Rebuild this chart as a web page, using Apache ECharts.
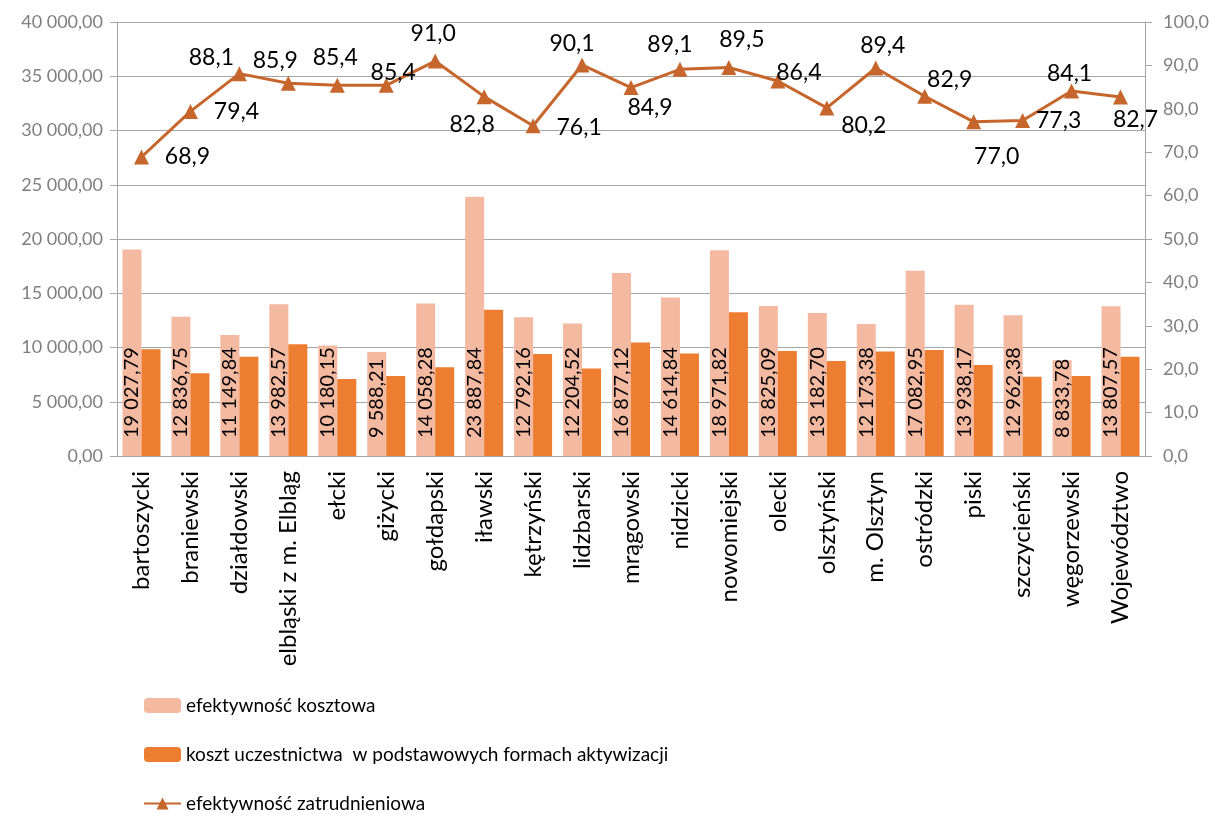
<!DOCTYPE html>
<html>
<head>
<meta charset="utf-8">
<script src="https://cdn.jsdelivr.net/npm/echarts@6/dist/echarts.min.js"></script>
<style>
  html, body { margin: 0; padding: 0; background: #fff; }
  #chart { width: 1215px; height: 817px; }
</style>
</head>
<body>
<div id="chart"></div>
<script>
// powiaty
var categories = ['bartoszycki', 'braniewski', 'działdowski', 'elbląski z m. Elbląg', 'ełcki', 'giżycki',
  'gołdapski', 'iławski', 'kętrzyński', 'lidzbarski', 'mrągowski', 'nidzicki', 'nowomiejski', 'olecki',
  'olsztyński', 'm. Olsztyn', 'ostródzki', 'piski', 'szczycieński', 'węgorzewski', 'Województwo'];

var efektywnoscKosztowa = [19027.79, 12836.75, 11149.84, 13982.57, 10180.15, 9588.21, 14058.28, 23887.84,
  12792.16, 12204.52, 16877.12, 14614.84, 18971.82, 13825.09, 13182.70, 12173.38, 17082.95, 13938.17,
  12962.38, 8833.78, 13807.57];

// (brak etykiet)
var kosztUczestnictwa = [9830, 7620, 9140, 10310, 7090, 7370, 8170, 13470, 9390, 8070, 10470, 9450,
  13260, 9670, 8750, 9640, 9760, 8380, 7300, 7370, 9140];

var efektywnoscZatrudnieniowa = [68.9, 79.4, 88.1, 85.9, 85.4, 85.4, 91.0, 82.8, 76.1, 90.1, 84.9, 89.1,
  89.5, 86.4, 80.2, 89.4, 82.9, 77.0, 77.3, 84.1, 82.7];

var seriesNames = ['efektywność kosztowa', 'koszt uczestnictwa  w podstawowych formach aktywizacji',
  'efektywność zatrudnieniowa'];

// przesuniecia etykiet linii wzgledem punktu
var lineLabelOffsets = [[46, 0], [46, 0], [-28, -16], [-13, -23], [-2, -28], [7, -13], [-2, -27], [-12, 28],
  [46, 2], [-10, -21], [19, 20], [-10, -25], [13, -28], [21, -8], [37, 18], [7, -22], [25, -17], [23, 35],
  [36, 0], [-2, -17], [15, 22]];

function fmt(v, d) {
  var parts = Number(v).toFixed(d).split('.');
  parts[0] = parts[0].replace(/\B(?=(\d{3})+(?!\d))/g, ' ');
  return parts.join(',');
}

var FONT = 'Lato';
var gray = '#a6a6a6';

var chart = echarts.init(document.getElementById('chart'));
chart.setOption({
  animation: false,
  textStyle: { fontFamily: FONT },
  grid: { left: 117, right: 70, top: 22, bottom: 361 },
  legend: {
    orient: 'vertical',
    left: 138,
    top: 691,
    height: 200,
    itemWidth: 37,
    itemHeight: 15,
    itemGap: 30,
    textStyle: { fontFamily: FONT, fontSize: 19, color: '#000' },
    data: seriesNames
  },
  xAxis: {
    type: 'category',
    data: categories,
    axisLine: { lineStyle: { color: gray } },
    axisTick: { length: 8, interval: 0, lineStyle: { color: gray } },
    axisLabel: { interval: 0, rotate: 90, margin: 15, fontSize: 24, color: '#000', fontFamily: FONT }
  },
  yAxis: [{
    type: 'value',
    min: 0, max: 40000, interval: 5000,
    axisLine: { show: true, lineStyle: { color: gray } },
    axisTick: { show: true, length: 7, lineStyle: { color: gray } },
    splitLine: { lineStyle: { color: gray } },
    axisLabel: { fontSize: 18, color: '#7f7f7f', margin: 14, fontFamily: FONT,
      formatter: function (v) { return fmt(v, 2); } }
  }, {
    type: 'value',
    min: 0, max: 100, interval: 10,
    axisLine: { show: true, lineStyle: { color: gray } },
    axisTick: { show: true, length: 7, lineStyle: { color: gray } },
    splitLine: { show: false },
    axisLabel: { fontSize: 18, color: '#7f7f7f', margin: 18, fontFamily: FONT,
      formatter: function (v) { return fmt(v, 1); } }
  }],
  series: [{
    name: seriesNames[0],
    type: 'bar',
    data: efektywnoscKosztowa,
    barWidth: 19,
    barGap: '0%',
    itemStyle: { color: '#F4B9A1' },
    label: {
      show: true,
      position: 'insideBottom',
      rotate: 90,
      align: 'left',
      verticalAlign: 'middle',
      distance: 18,
      fontSize: 20,
      color: '#000',
      fontFamily: FONT,
      formatter: function (p) { return fmt(p.value, 2); }
    },
    z: 2
  }, {
    name: seriesNames[1],
    type: 'bar',
    data: kosztUczestnictwa,
    barWidth: 19,
    itemStyle: { color: '#ED7D31' }
  }, {
    name: seriesNames[2],
    type: 'line',
    yAxisIndex: 1,
    data: efektywnoscZatrudnieniowa.map(function (v, i) {
      return { value: v, label: { offset: lineLabelOffsets[i] } };
    }),
    symbol: 'triangle',
    symbolSize: 15,
    lineStyle: { color: '#C6662C', width: 3 },
    itemStyle: { color: '#C6662C' },
    label: {
      show: true,
      position: 'inside',
      fontSize: 23,
      color: '#000',
      fontFamily: FONT,
      formatter: function (p) { return fmt(p.value, 1); }
    },
    z: 5
  }]
});
</script>
</body>
</html>
